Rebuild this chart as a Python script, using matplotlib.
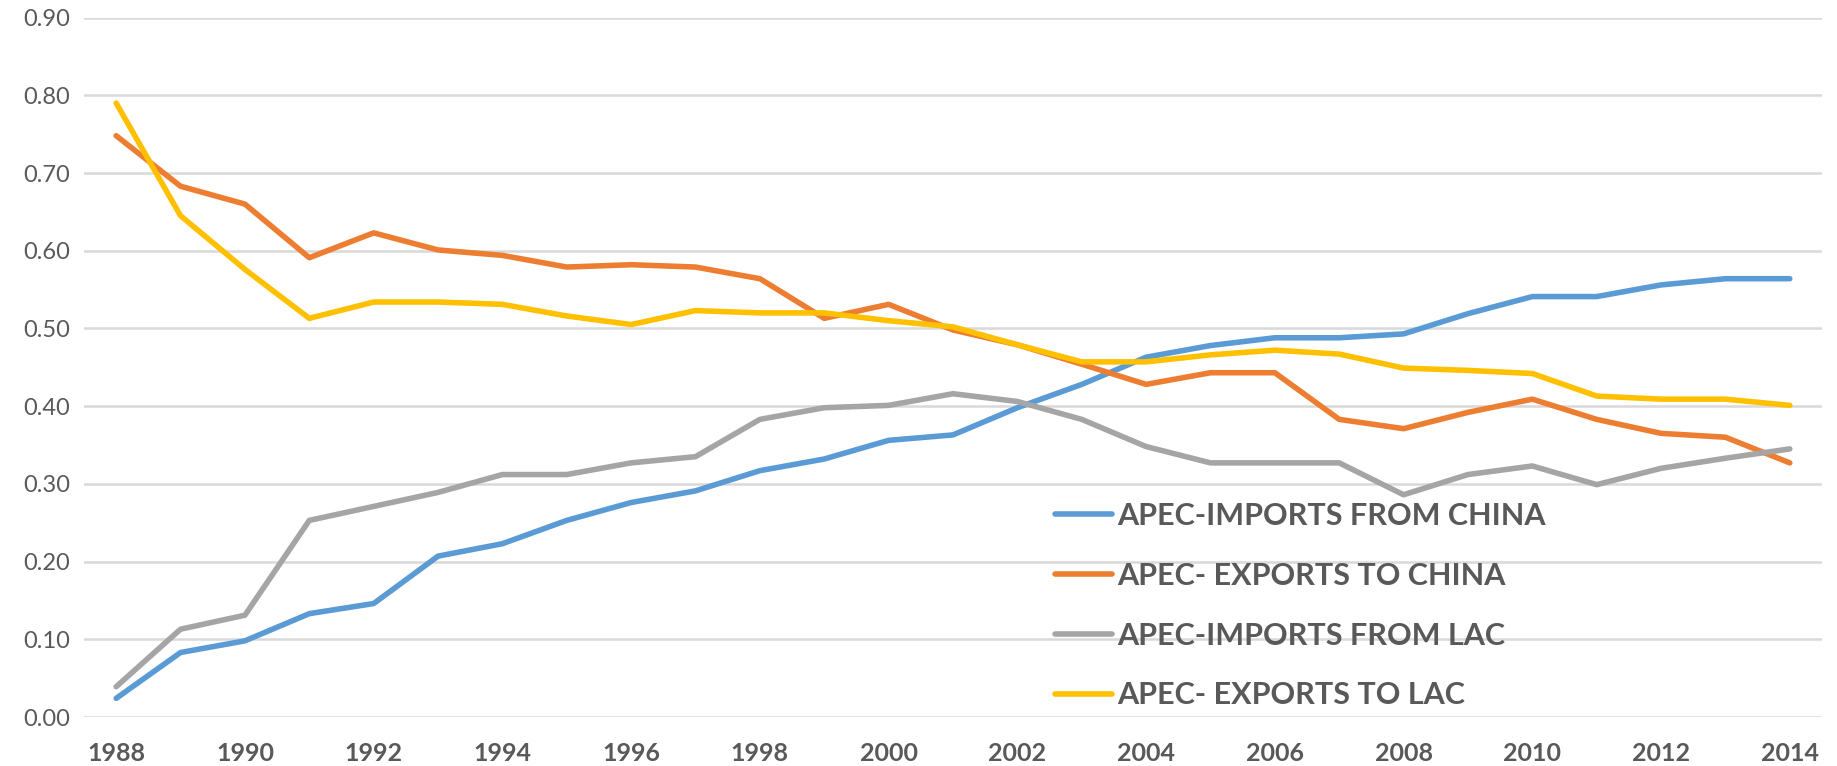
import matplotlib
matplotlib.use("Agg")
import matplotlib.pyplot as plt

plt.rcParams['font.family'] = ['Lato', 'DejaVu Sans']

years = list(range(1988, 2015))

imports_china = [0.024, 0.083, 0.098, 0.133, 0.146, 0.207, 0.223, 0.253, 0.276, 0.291,
                 0.317, 0.332, 0.356, 0.363, 0.398, 0.428, 0.463, 0.478, 0.488, 0.488,
                 0.493, 0.519, 0.541, 0.541, 0.556, 0.564, 0.564]
exports_china = [0.748, 0.683, 0.660, 0.591, 0.623, 0.601, 0.594, 0.579, 0.582, 0.579,
                 0.564, 0.513, 0.531, 0.498, 0.479, 0.454, 0.428, 0.443, 0.443, 0.383,
                 0.371, 0.392, 0.409, 0.383, 0.365, 0.360, 0.327]
imports_lac = [0.039, 0.113, 0.131, 0.253, 0.271, 0.289, 0.312, 0.312, 0.327, 0.335,
               0.383, 0.398, 0.401, 0.416, 0.406, 0.383, 0.348, 0.327, 0.327, 0.327,
               0.286, 0.312, 0.323, 0.299, 0.320, 0.333, 0.345]
exports_lac = [0.790, 0.645, 0.576, 0.513, 0.534, 0.534, 0.531, 0.516, 0.505, 0.523,
               0.520, 0.520, 0.510, 0.502, 0.479, 0.457, 0.457, 0.466, 0.472, 0.467,
               0.449, 0.446, 0.442, 0.413, 0.409, 0.409, 0.401]

labels = ["APEC-IMPORTS FROM CHINA", "APEC- EXPORTS TO CHINA",
          "APEC-IMPORTS FROM LAC", "APEC- EXPORTS TO LAC"]
colors = ["#5b9bd5", "#ed7d31", "#a5a5a5", "#ffc000"]

fig = plt.figure(figsize=(18.37, 7.66), dpi=100)
ax = fig.add_axes([84 / 1837, 49 / 766, (1822 - 84) / 1837, (717 - 17.6) / 766])

for vals, lab, col in zip([imports_china, exports_china, imports_lac, exports_lac], labels, colors):
    ax.plot(years, vals, color=col, linewidth=4, label=lab, solid_capstyle='round')

ax.set_xlim(1987.5, 2014.5)
ax.set_ylim(0, 0.9)
ax.set_yticks([i / 10 for i in range(10)])
ax.set_yticklabels([f"{i / 10:.2f}" for i in range(10)], fontsize=17, color="#595959")
ax.set_xticks(years[::2])
ax.set_xticklabels([str(y) for y in years[::2]], fontsize=18, fontweight='bold', color="#595959")
ax.tick_params(axis='both', length=0)
ax.tick_params(axis='y', pad=10)
ax.tick_params(axis='x', pad=18)
ax.grid(axis='y', color="#d9d9d9", linewidth=1.8)
ax.set_axisbelow(True)
for s in ax.spines.values():
    s.set_visible(False)

leg = ax.legend(loc='upper left', bbox_to_anchor=(1055 / 1837, 1 - 502 / 766),
                bbox_transform=fig.transFigure, frameon=False, borderpad=0, borderaxespad=0,
                handlelength=1.87, handletextpad=0.15, labelspacing=1.04,
                prop={'size': 22, 'weight': 'bold'})
for t in leg.get_texts():
    t.set_color("#595959")

fig.savefig("out.png", dpi=100)
